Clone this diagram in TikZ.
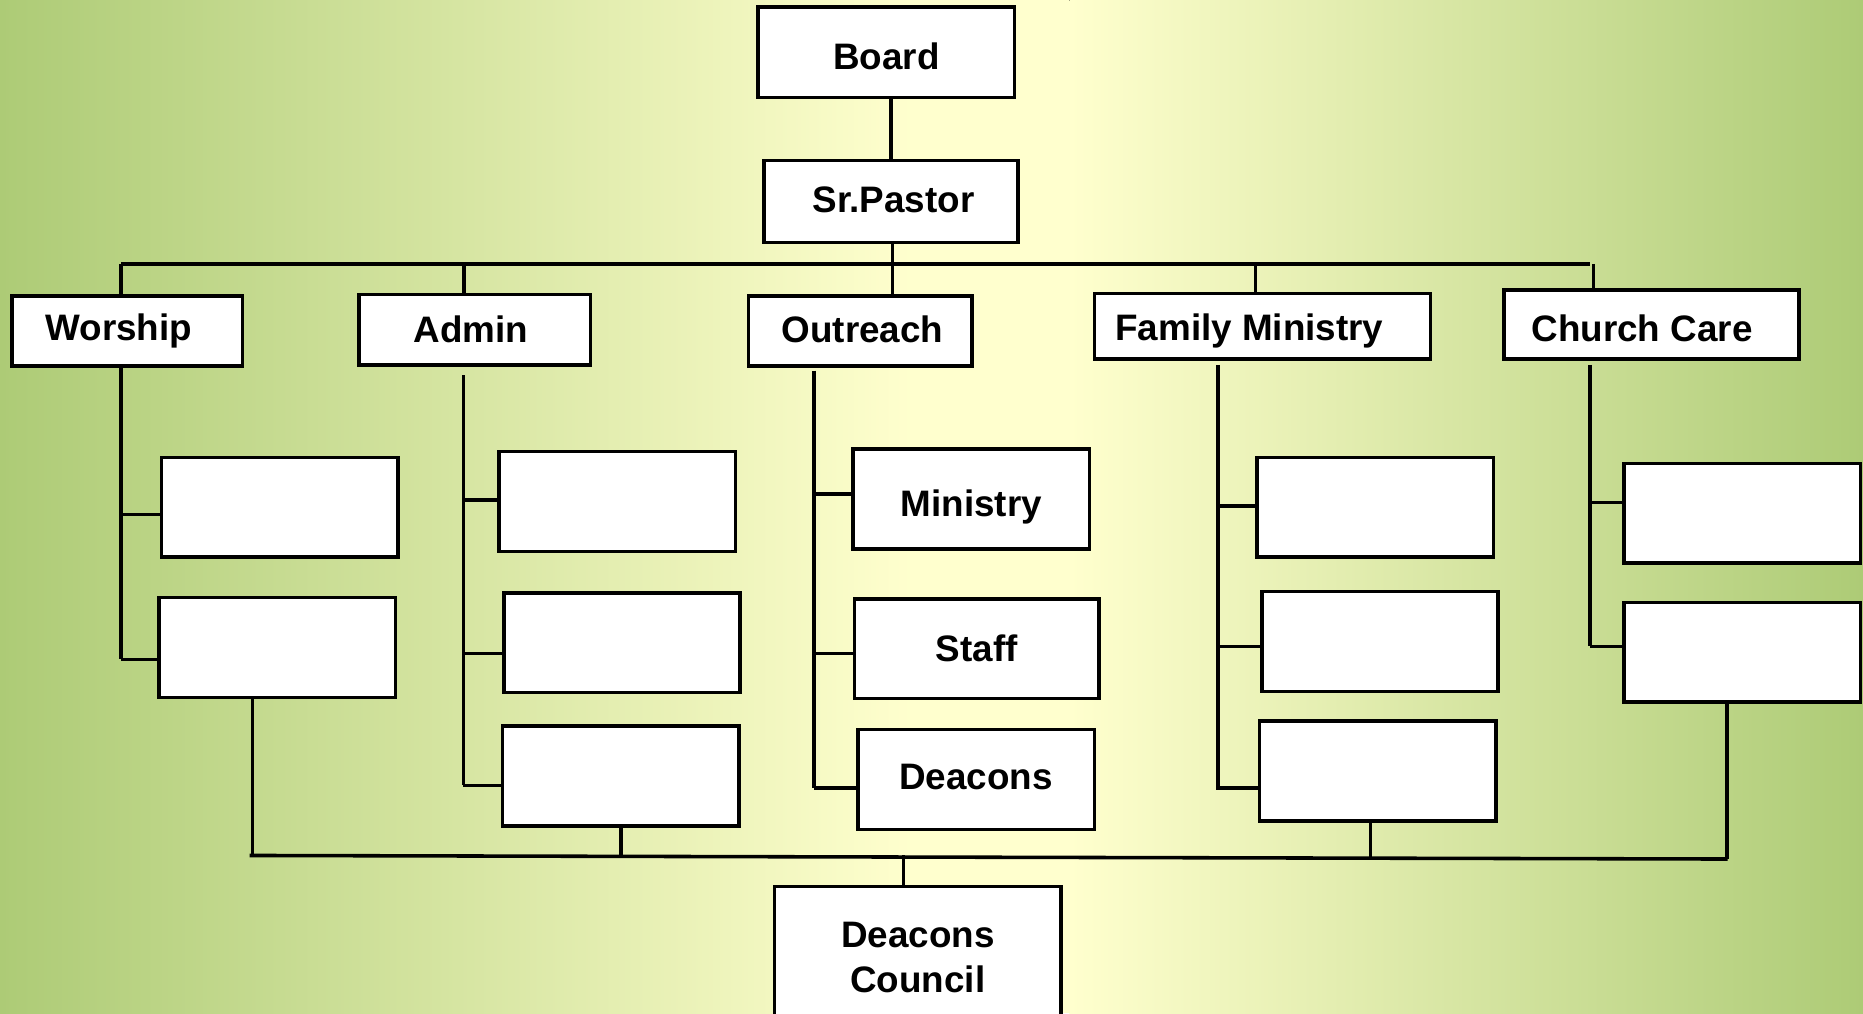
\documentclass[tikz,border=0pt]{standalone}
\usepackage{fontspec}
\setmainfont{Liberation Sans}
\usetikzlibrary{calc}
\definecolor{bggreen}{RGB}{173,203,118}
\definecolor{bgyellow}{RGB}{255,255,206}
\newcommand{\lowertext}[2]{\raisebox{#1}[\height][\depth]{#2}}
\begin{document}
\begin{tikzpicture}[x=1pt,y=-1pt,
  box/.style={draw=black,line width=3pt,fill=white,inner sep=0pt,
    font=\fontsize{31}{38}\selectfont\bfseries,align=center},
  conn/.style={draw=black,line width=3pt}]
\useasboundingbox (0,0) rectangle (1568,853);
% background
\fill[left color=bggreen,right color=bgyellow] (0,0) rectangle (770,853);
\fill[bgyellow] (769,0) rectangle (901,853);
\fill[left color=bgyellow,right color=bggreen] (900,0) rectangle (1568,853);
% top nodes
\node[box,minimum width=216,minimum height=76] (board) at (746,44) {\lowertext{-3pt}{Board}};
\node[box,minimum width=214,minimum height=69] (pastor) at (750,169.5) {\hspace*{4pt}\lowertext{1pt}{Sr.Pastor}};
\node[box,minimum width=194,minimum height=59] (worship) at (107,278.5) {\hspace*{-14pt}Worship};
\node[box,minimum width=195,minimum height=59] (admin) at (399.5,277.5) {\hspace*{-6pt}Admin};
\node[box,minimum width=188,minimum height=59] (outreach) at (724,278.5) {\hspace*{4pt}\lowertext{1pt}{Outreach}};
\node[box,minimum width=283,minimum height=55] (family) at (1062.5,274.5) {\hspace*{-22pt}\lowertext{-4pt}{Family Ministry}};
\node[box,minimum width=248,minimum height=58] (church) at (1390,273) {\hspace*{-16pt}\lowertext{-3pt}{Church Care}};
% sub boxes
\node[box,minimum width=199,minimum height=84] (w1) at (235.5,427) {};
\node[box,minimum width=199,minimum height=84] (w2) at (233.5,545) {};
\node[box,minimum width=199,minimum height=84] (a1) at (519.5,422) {};
\node[box,minimum width=199,minimum height=84] (a2) at (523.5,541) {};
\node[box,minimum width=199,minimum height=84] (a3) at (522.5,653) {};
\node[box,minimum width=199,minimum height=84] (o1) at (817.5,420) {\lowertext{-7pt}{Ministry}};
\node[box,minimum width=206,minimum height=84] (o2) at (822,546) {Staff};
\node[box,minimum width=199,minimum height=84] (o3) at (821.5,656) {\lowertext{2pt}{Deacons}};
\node[box,minimum width=199,minimum height=84] (f1) at (1157.5,427) {};
\node[box,minimum width=199,minimum height=84] (f2) at (1161.5,540) {};
\node[box,minimum width=199,minimum height=84] (f3) at (1159.5,649) {};
\node[box,minimum width=199,minimum height=84] (c1) at (1466.5,432) {};
\node[box,minimum width=199,minimum height=84] (c2) at (1466.5,549) {};
\node[box,minimum width=241,minimum height=120] (dc) at (772.5,806) {Deacons\\Council};
% board to pastor
\draw[conn] (pastor.north |- board.south) -- (pastor.north);
% top bus
\coordinate (tbl) at (102,222);
\coordinate (tbr) at (1338,222);
\draw[conn] (tbl) -- (tbr);
\draw[conn] ([xshift=1]pastor.south) -- ([xshift=1]pastor.south |- outreach.north);
\draw[conn] ([xshift=-5]worship.north |- tbl) -- ([xshift=-5]worship.north);
\draw[conn] ([xshift=-9]admin.north |- tbl) -- ([xshift=-9]admin.north);
\draw[conn] ([xshift=-6]family.north |- tbl) -- ([xshift=-6]family.north);
\draw[conn] ([xshift=-49]church.north |- tbl) -- ([xshift=-49]church.north);
% worship trunk
\coordinate (wt) at (102,308); \coordinate (wb) at (102,555);
\draw[conn] (wt) -- (wb);
\draw[conn] ([yshift=-6]w1.west -| wt) -- ([yshift=-6]w1.west);
\draw[conn] ([yshift=-10]w2.west -| wt) -- ([yshift=-10]w2.west);
% admin trunk
\coordinate (at) at (390,316); \coordinate (ab) at (390,661);
\draw[conn] (at) -- (ab);
\draw[conn] ([yshift=1]a1.west -| at) -- ([yshift=1]a1.west);
\draw[conn] ([yshift=-9]a2.west -| at) -- ([yshift=-9]a2.west);
\draw[conn] ([yshift=-8]a3.west -| at) -- ([yshift=-8]a3.west);
% outreach trunk
\coordinate (ot) at (685,312); \coordinate (ob) at (685,663);
\draw[conn] (ot) -- (ob);
\draw[conn] ([yshift=4]o1.west -| ot) -- ([yshift=4]o1.west);
\draw[conn] ([yshift=-4]o2.west -| ot) -- ([yshift=-4]o2.west);
\draw[conn] ([yshift=-7]o3.west -| ot) -- ([yshift=-7]o3.west);
% family trunk
\coordinate (ft) at (1025,307); \coordinate (fb) at (1025,665);
\draw[conn] (ft) -- (fb);
\draw[conn] ([yshift=1]f1.west -| ft) -- ([yshift=1]f1.west);
\draw[conn] ([yshift=-4]f2.west -| ft) -- ([yshift=-4]f2.west);
\draw[conn] ([yshift=-14]f3.west -| ft) -- ([yshift=-14]f3.west);
% church trunk
\coordinate (ct) at (1338,307); \coordinate (cb) at (1338,544);
\draw[conn] (ct) -- (cb);
\draw[conn] ([yshift=9]c1.west -| ct) -- ([yshift=9]c1.west);
\draw[conn] ([yshift=5]c2.west -| ct) -- ([yshift=5]c2.west);
% bottom bus
\coordinate (bbl) at (210,720);
\coordinate (bbr) at (1454,723);
\draw[conn] (bbl) -- (bbr);
\draw[conn] ([xshift=-21]w2.south) -- ([xshift=-21]w2.south |- bbl);
\draw[conn] (a3.south) -- (a3.south |- bbl);
\draw[conn] ([xshift=-6]f3.south) -- ([xshift=-6]f3.south |- bbr);
\draw[conn] ([xshift=-13]c2.south) -- ([xshift=-13]c2.south |- bbr);
\draw[conn] ([xshift=-12]dc.north |- bbl) -- ([xshift=-12]dc.north);
\end{tikzpicture}
\end{document}
